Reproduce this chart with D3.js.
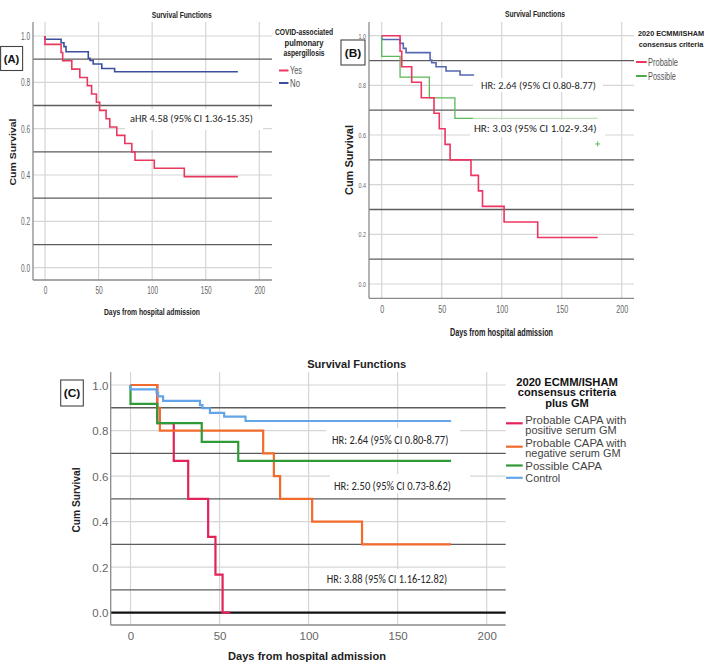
<!DOCTYPE html>
<html><head><meta charset="utf-8">
<script src="https://cdn.jsdelivr.net/npm/d3@7"></script>
<style>body{margin:0;background:#fff} svg{display:block}</style>
</head><body>
<script>
// ---------------- DATA ----------------
const dayTicks = [0, 50, 100, 150, 200];
const survTicks = [0, 0.2, 0.4, 0.6, 0.8, 1.0];
const refLines = [0.1, 0.3, 0.5, 0.7, 0.9];

// Panel A: COVID-associated pulmonary aspergillosis
const aYesDays = [0, 0, 15, 16.5, 25, 32.5, 39.5, 43.5, 48, 51, 57, 60.5, 67, 74.5, 81, 84, 102, 130, 180];
const aYesSurv = [1, 0.964, 0.929, 0.893, 0.857, 0.821, 0.786, 0.750, 0.714, 0.679, 0.643, 0.607, 0.571, 0.536, 0.500, 0.464, 0.429, 0.393, 0.393];
const aNoDays = [0, 0, 15, 17.7, 19.6, 40.4, 42, 45, 53, 65, 180];
const aNoSurv = [1, 0.986, 0.971, 0.954, 0.932, 0.904, 0.894, 0.879, 0.860, 0.846, 0.846];

// Panel B: 2020 ECMM/ISHAM consensus criteria
const bProbDays = [0, 15.3, 16.7, 25, 33, 43.6, 48, 52.8, 57, 74.4, 80.6, 84, 102, 130, 180];
const bProbSurv = [1, 0.9375, 0.875, 0.8125, 0.75, 0.6875, 0.625, 0.5625, 0.5, 0.4375, 0.375, 0.3125, 0.25, 0.1875, 0.1875];
const bPossDays = [0, 0, 15.3, 39.7, 61, 76];
const bPossSurv = [1, 0.917, 0.833, 0.75, 0.667, 0.667];
const bPossTailDays = [76, 180];
const bPossTailSurv = [0.667, 0.667];
const bPossCensorDays = [180];
const bPossCensorSurv = [0.564];
const bCtrlDays = [0, 0, 15.3, 18, 20.3, 40.3, 41.7, 45.3, 53.6, 65.3, 77];
const bCtrlSurv = [1, 0.985, 0.969, 0.949, 0.932, 0.902, 0.891, 0.875, 0.858, 0.842, 0.842];

// Panel C: 2020 ECMM/ISHAM consensus criteria plus GM
const cPosDays = [0, 15, 24.3, 32.4, 43.6, 47.7, 51.7, 56];
const cPosSurv = [1, 0.833, 0.667, 0.5, 0.333, 0.167, 0, 0];
const cNegDays = [0, 15, 16.5, 74.5, 80.5, 84, 102, 130, 180];
const cNegSurv = [1, 0.9, 0.8, 0.7, 0.6, 0.5, 0.4, 0.3, 0.3];
const cPossDays = [0, 0, 15, 40, 60.5, 180];
const cPossSurv = [1, 0.917, 0.833, 0.75, 0.667, 0.667];
const cCtrlDays = [0, 0, 14.6, 15.5, 18.3, 39, 40.4, 44.6, 52.6, 64.6, 180];
const cCtrlSurv = [1, 0.981, 0.966, 0.950, 0.930, 0.912, 0.898, 0.878, 0.861, 0.842, 0.842];

const legendA = ["Yes", "No"];
const legendB = ["Probable", "Possible"];
const legendC = [["Probable CAPA with", "positive serum GM"], ["Probable CAPA with", "negative serum GM"], ["Possible CAPA"], ["Control"]];
const annA = ["aHR 4.58 (95% CI 1.36-15.35)"];
const annB = ["HR: 2.64 (95% CI 0.80-8.77)", "HR: 3.03 (95% CI 1.02-9.34)"];
const annC = ["HR: 2.64 (95% CI 0.80-8.77)", "HR: 2.50 (95% CI 0.73-8.62)", "HR: 3.88 (95% CI 1.16-12.82)"];

const zip = (d, s) => d.map((v, i) => [v, s[i]]);

// ---------------- DRAW ----------------
const svg = d3.select("body").append("svg").attr("width", 709).attr("height", 670);
svg.append("rect").attr("width", 709).attr("height", 670).attr("fill", "#fff");

const ARIAL = "Arial, 'Liberation Sans', sans-serif";
const CALI = "Carlito, Lato, 'Open Sans', sans-serif";

function txt(parent, o) {
  const t = parent.append("text").attr("x", o.x).attr("y", o.y).text(o.t)
    .attr("font-family", o.ff || ARIAL).attr("font-size", o.fs)
    .attr("font-weight", o.fw || "normal").attr("fill", o.fill || "#222")
    .attr("text-anchor", o.anchor || "middle").attr("dominant-baseline", "central");
  if (o.rot) t.attr("transform", `rotate(${o.rot},${o.x},${o.y})`);
  if (o.w) t.attr("textLength", o.w).attr("lengthAdjust", "spacingAndGlyphs");
  return t;
}
function condense(sel, f) {
  sel.each(function () {
    const L = this.getComputedTextLength();
    d3.select(this).attr("textLength", L * f).attr("lengthAdjust", "spacingAndGlyphs");
  });
}

function panel(c) {
  const g = svg.append("g");
  const x = d3.scaleLinear().domain([0, 200]).range([c.x0, c.x200]);
  const y = d3.scaleLinear().domain([0, 1]).range([c.y0, c.y1]);

  // light gridlines
  g.selectAll(".vg").data(dayTicks).join("line")
    .attr("x1", d => x(d)).attr("x2", d => x(d)).attr("y1", c.T).attr("y2", c.B)
    .attr("stroke", "#d6d6d6").attr("stroke-width", 1.2);
  g.selectAll(".hg").data(survTicks).join("line")
    .attr("x1", c.L).attr("x2", c.R).attr("y1", d => y(d)).attr("y2", d => y(d))
    .attr("stroke", d => (c.zeroBlack && d === 0) ? "#111" : "#d6d6d6")
    .attr("stroke-width", d => (c.zeroBlack && d === 0) ? 2.2 : 1.2);

  // annotation boxes
  c.ann.forEach(a => {
    g.append("rect").attr("x", a.bx).attr("y", a.by).attr("width", a.bw).attr("height", a.bh).attr("fill", "#fff");
  });

  // reference dark lines
  g.selectAll(".rl").data(refLines).join("line")
    .attr("x1", c.L).attr("x2", c.R).attr("y1", d => y(d)).attr("y2", d => y(d))
    .attr("stroke", "#5c5c5c").attr("stroke-width", 1.3);

  // series
  const line = d3.line().x(d => x(d[0])).y(d => y(d[1])).curve(d3.curveStepAfter);
  c.series.forEach(s => {
    g.append("path").datum(zip(s.days, s.surv)).attr("d", line)
      .attr("fill", "none").attr("stroke", s.color).attr("stroke-width", s.w || c.lw);
  });
  (c.censors || []).forEach(s => {
    zip(s.days, s.surv).forEach(p => {
      g.append("path").attr("d", `M${x(p[0]) - 2.5},${y(p[1])}h5M${x(p[0])},${y(p[1]) - 2.5}v5`)
        .attr("stroke", s.color).attr("stroke-width", 1);
    });
  });

  // axis lines
  g.append("line").attr("x1", c.L).attr("x2", c.L).attr("y1", c.T).attr("y2", c.B).attr("stroke", "#8a8a8a").attr("stroke-width", 1.3);
  g.append("line").attr("x1", c.L).attr("x2", c.R).attr("y1", c.B).attr("y2", c.B).attr("stroke", "#8a8a8a").attr("stroke-width", 1.3);

  // axes (labels only)
  const xa = g.append("g").attr("transform", `translate(0,${c.B})`)
    .call(d3.axisBottom(x).tickValues(dayTicks).tickSize(0).tickFormat(d3.format("d")));
  xa.select(".domain").remove();
  xa.selectAll("text").attr("y", c.xtOff).attr("dy", "0.35em").attr("font-size", c.xtFs)
    .attr("fill", "#666").attr("font-family", ARIAL);
  const ya = g.append("g").attr("transform", `translate(${c.L},0)`)
    .call(d3.axisLeft(y).tickValues(survTicks).tickSize(0).tickFormat(d3.format(".1f")));
  ya.select(".domain").remove();
  ya.selectAll("text").attr("x", -c.ytPad).attr("dy", "0.35em").attr("font-size", c.ytFs)
    .attr("fill", "#666").attr("font-family", ARIAL);
  if (c.xtCond) condense(xa.selectAll("text"), c.xtCond);
  if (c.ytCond) condense(ya.selectAll("text"), c.ytCond);

  // annotation texts
  c.ann.forEach(a => txt(g, { x: a.x, y: a.y, t: a.t, fs: a.fs, ff: CALI, w: a.w, fill: "#262626" }));
  return g;
}

// ---- Panel A ----
panel({
  x0: 45, x200: 259.3, y0: 267.7, y1: 36, L: 33, R: 272, T: 22, B: 280, lw: 1.6,
  xtOff: 10.7, xtFs: 10, xtCond: 0.65, ytPad: 3, ytFs: 10, ytCond: 0.65,
  series: [
    { days: aNoDays, surv: aNoSurv, color: "#3c4f9e" },
    { days: aYesDays, surv: aYesSurv, color: "#e8395f" }
  ],
  ann: [{ t: annA[0], x: 191.5, y: 118.3, w: 123, fs: 11, bx: 125, by: 109, bw: 138, bh: 21 }]
});
txt(svg, { x: 181.7, y: 14, t: "Survival Functions", fs: 9.5, fw: "bold", w: 60, fill: "#222" });
txt(svg, { x: 152, y: 311.5, t: "Days from hospital admission", fs: 9.5, fw: "bold", w: 96 });
txt(svg, { x: 12, y: 152, t: "Cum Survival", fs: 9.5, fw: "bold", w: 67, rot: -90 });
["COVID-associated", "pulmonary", "aspergillosis"].forEach((s, i) =>
  txt(svg, { x: 304, y: 32.3 + i * 10.5, t: s, fs: 9, fw: "bold", w: [58, 39, 41][i] }));
[["#e8395f", 70.5, 12], ["#3c4f9e", 83, 10]].forEach((d, i) => {
  svg.append("line").attr("x1", 279).attr("x2", 288.5).attr("y1", d[1]).attr("y2", d[1]).attr("stroke", d[0]).attr("stroke-width", 2);
  txt(svg, { x: 290, y: d[1], t: legendA[i], fs: 10, anchor: "start", w: d[2], fill: "#555" });
});
svg.append("rect").attr("x", 0.6).attr("y", 46.5).attr("width", 22).attr("height", 24).attr("fill", "#fff").attr("stroke", "#444").attr("stroke-width", 1.1);
txt(svg, { x: 11.6, y: 58.8, t: "(A)", fs: 10.5, fw: "bold", w: 15.5, fill: "#111" });

// ---- Panel B ----
panel({
  x0: 381.7, x200: 621.7, y0: 284, y1: 35.7, L: 369, R: 634, T: 22, B: 298.3, lw: 1.6,
  xtOff: 10.7, xtFs: 11, xtCond: 0.65, ytPad: 3, ytFs: 7.5, ytCond: 0.72,
  series: [
    { days: bCtrlDays, surv: bCtrlSurv, color: "#5667b4" },
    { days: bPossTailDays, surv: bPossTailSurv, color: "#bfe0bb", w: 1.2 },
    { days: bPossDays, surv: bPossSurv, color: "#5cb85a", w: 1.3 },
    { days: bProbDays, surv: bProbSurv, color: "#ee3461" }
  ],
  censors: [{ days: bPossCensorDays, surv: bPossCensorSurv, color: "#5cb85a" }],
  ann: [
    { t: annB[0], x: 538.5, y: 85, w: 115, fs: 10.5, bx: 473, by: 78, bw: 130, bh: 14 },
    { t: annB[1], x: 535.3, y: 128.3, w: 122.7, fs: 10.5, bx: 470, by: 120, bw: 135, bh: 17 }
  ]
});
txt(svg, { x: 535, y: 13.5, t: "Survival Functions", fs: 9.5, fw: "bold", w: 60 });
txt(svg, { x: 501.5, y: 332, t: "Days from hospital admission", fs: 10, fw: "bold", w: 103 });
txt(svg, { x: 349, y: 160, t: "Cum Survival", fs: 10, fw: "bold", w: 70, rot: -90 });
["2020 ECMM/ISHAM", "consensus criteria"].forEach((s, i) =>
  txt(svg, { x: 671, y: 33.5 + i * 10.8, t: s, fs: 8, fw: "bold", w: [66, 64.5][i] }));
[["#ee3461", 62, 30], ["#4ca94a", 76, 28]].forEach((d, i) => {
  svg.append("line").attr("x1", 636).attr("x2", 646.7).attr("y1", d[1]).attr("y2", d[1]).attr("stroke", d[0]).attr("stroke-width", 2);
  txt(svg, { x: 648, y: d[1], t: legendB[i], fs: 10, anchor: "start", w: d[2], fill: "#555" });
});
svg.append("rect").attr("x", 341).attr("y", 40).attr("width", 24).attr("height", 25).attr("fill", "#fff").attr("stroke", "#444").attr("stroke-width", 1.1);
txt(svg, { x: 353, y: 52.5, t: "(B)", fs: 10.5, fw: "bold", w: 16.5, fill: "#111" });

// ---- Panel C ----
panel({
  x0: 130.5, x200: 486.7, y0: 612.7, y1: 385, L: 110.7, R: 505.7, T: 372, B: 625, lw: 2.2, zeroBlack: true,
  xtOff: 11.2, xtFs: 11.5, ytPad: 2.4, ytFs: 11.5,
  series: [
    { days: cPosDays, surv: cPosSurv, color: "#e2235a" },
    { days: cNegDays, surv: cNegSurv, color: "#f26b2c" },
    { days: cPossDays, surv: cPossSurv, color: "#2f9a37" },
    { days: cCtrlDays, surv: cCtrlSurv, color: "#64a5ea" }
  ],
  ann: [
    { t: annC[0], x: 390.2, y: 440, w: 116.3, fs: 11.5, bx: 326, by: 428, bw: 134, bh: 21 },
    { t: annC[1], x: 392.5, y: 486, w: 117, fs: 11.5, bx: 330, by: 474, bw: 140, bh: 19 },
    { t: annC[2], x: 387, y: 579, w: 120.3, fs: 11.5, bx: 318, by: 569, bw: 140, bh: 19 }
  ]
});
txt(svg, { x: 356.7, y: 364, t: "Survival Functions", fs: 11, fw: "bold", w: 99 });
txt(svg, { x: 307, y: 655.7, t: "Days from hospital admission", fs: 11.5, fw: "bold", w: 158 });
txt(svg, { x: 76, y: 500, t: "Cum Survival", fs: 11, fw: "bold", w: 65, rot: -90 });
["2020 ECMM/ISHAM", "consensus criteria", "plus GM"].forEach((s, i) =>
  txt(svg, { x: 567, y: 382.3 + i * 10.35, t: s, fs: 10, fw: "bold", w: [101.7, 98.3, 43.7][i], fill: "#111" }));
const legC = [
  { color: "#e2235a", ly: 423.3, ty: [420, 430.3], w: [101, 91.3] },
  { color: "#f26b2c", ly: 446.7, ty: [443, 453.3], w: [101, 95.3] },
  { color: "#2f9a37", ly: 465.5, ty: [466], w: [76.7] },
  { color: "#64a5ea", ly: 477.8, ty: [478.3], w: [35] }
];
legC.forEach((d, i) => {
  svg.append("line").attr("x1", 506).attr("x2", 522.7).attr("y1", d.ly).attr("y2", d.ly).attr("stroke", d.color).attr("stroke-width", 2.2);
  legendC[i].forEach((s, j) => txt(svg, { x: 525.3, y: d.ty[j], t: s, fs: 10, anchor: "start", w: d.w[j], fill: "#444" }));
});
svg.append("rect").attr("x", 60.7).attr("y", 380).attr("width", 22.6).attr("height", 26).attr("fill", "#fff").attr("stroke", "#444").attr("stroke-width", 1.1);
txt(svg, { x: 72, y: 393, t: "(C)", fs: 11, fw: "bold", w: 16.7, fill: "#111" });
</script>
</body></html>
